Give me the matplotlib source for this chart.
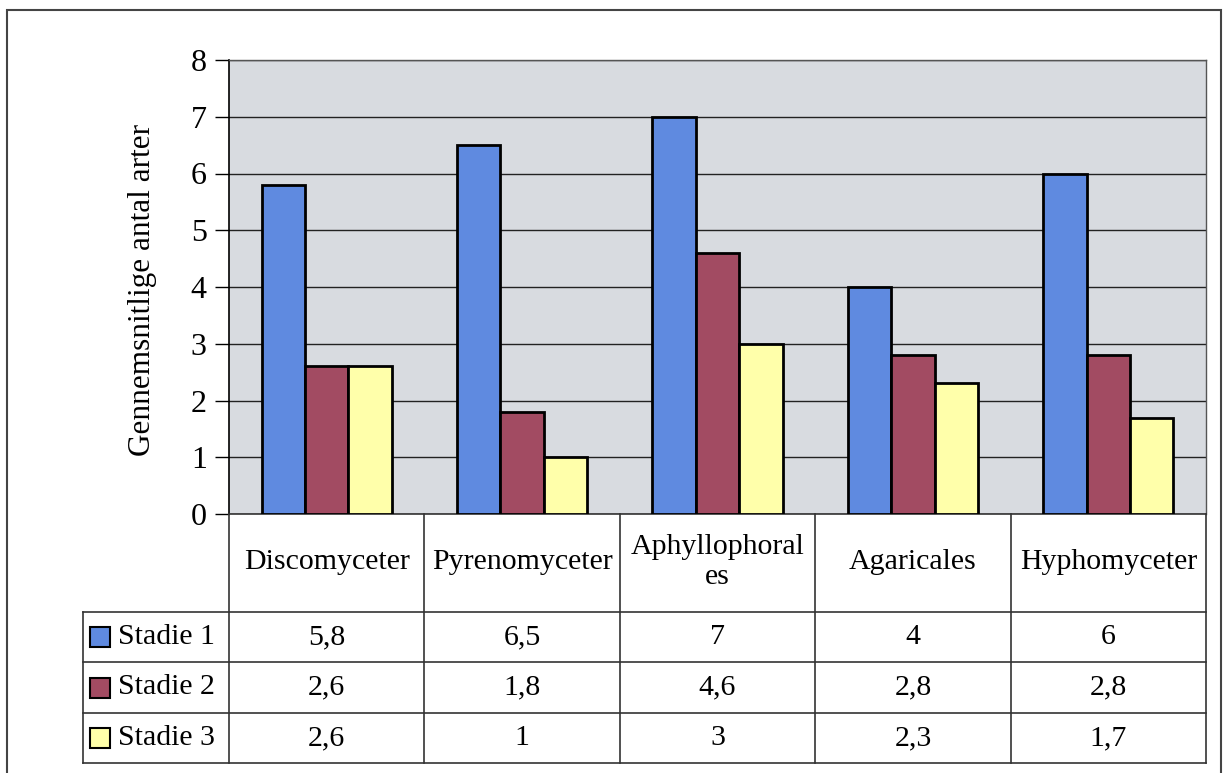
import numpy as np
import matplotlib
matplotlib.use("Agg")
import matplotlib.pyplot as plt
import matplotlib.transforms as mtransforms
from matplotlib.lines import Line2D
from matplotlib.patches import Rectangle

# data
categories = ['Discomyceter', 'Pyrenomyceter', 'Aphyllophoral\nes', 'Agaricales', 'Hyphomyceter']
series_names = ['Stadie 1', 'Stadie 2', 'Stadie 3']
stadie1 = [5.8, 6.5, 7, 4, 6]
stadie2 = [2.6, 1.8, 4.6, 2.8, 2.8]
stadie3 = [2.6, 1, 3, 2.3, 1.7]
y_ticks = [0, 1, 2, 3, 4, 5, 6, 7, 8]
colors = ['#5f8ae0', '#a24b62', '#ffffaa']

W, H = 1223, 773
plt.rcParams['font.family'] = ['Liberation Serif', 'DejaVu Serif']
FS = 21.5


def fx(x):
    return x / W


def fy(y):
    return 1 - y / H


fig = plt.figure(figsize=(W / 100, H / 100), dpi=100)

# outer chart border
fig.add_artist(Rectangle((fx(7), fy(790)), fx(1221) - fx(7), fy(10) - fy(790),
                         transform=fig.transFigure, fill=False,
                         edgecolor='#444444', linewidth=1.5))

ax = fig.add_axes([fx(229), fy(514), fx(1206) - fx(229), fy(60) - fy(514)])
ax.set_facecolor('#d8dbe0')

x = np.arange(len(categories))
w = 0.222
for k, vals in enumerate([stadie1, stadie2, stadie3]):
    ax.bar(x + (k - 1) * w, vals, w, color=colors[k], edgecolor='black',
           linewidth=2, zorder=3, label=series_names[k])

ax.set_xlim(-0.5, 4.5)
ax.set_ylim(0, 8)
ax.set_yticks(y_ticks)
ax.set_xticks([])
ax.yaxis.grid(True, color='#222222', linewidth=1)
ax.set_axisbelow(True)
ax.tick_params(axis='y', labelsize=23, length=10, width=1, pad=6,
               direction='out', colors='black')
for s in ['top', 'right']:
    ax.spines[s].set_color('#555555')
    ax.spines[s].set_linewidth(1)
ax.spines['left'].set_color('black')
ax.spines['left'].set_linewidth(1.2)
ax.spines['bottom'].set_color('#333333')
ax.spines['bottom'].set_linewidth(1.2)

ax.set_ylabel('Gennemsnitlige antal arter', fontsize=22.5)
ax.yaxis.set_label_coords(-0.074, 0.493)

# data table under the chart
tr = mtransforms.blended_transform_factory(ax.transData, fig.transFigure)
line_kw = dict(color='#333333', linewidth=1.2)

rows_y = [612, 662, 713, 763]
for b in np.arange(len(categories) + 1) - 0.5:
    fig.add_artist(Line2D([b, b], [fy(514), fy(763)], transform=tr, **line_kw))
for yy in rows_y:
    fig.add_artist(Line2D([fx(83), fx(1206)], [fy(yy), fy(yy)],
                          transform=fig.transFigure, **line_kw))
fig.add_artist(Line2D([fx(83), fx(83)], [fy(612), fy(763)],
                      transform=fig.transFigure, **line_kw))

for i, cat in enumerate(categories):
    fig.text(x[i], fy(562), cat, transform=tr, ha='center', va='center',
             fontsize=FS, linespacing=1.2)

for r, (name, vals) in enumerate(zip(series_names, [stadie1, stadie2, stadie3])):
    yc = (rows_y[r] + rows_y[r + 1]) / 2
    fig.add_artist(Rectangle((fx(90), fy(yc + 10)), fx(20), 20 / H,
                             transform=fig.transFigure, facecolor=colors[r],
                             edgecolor='black', linewidth=1.5))
    fig.text(fx(118), fy(yc), name, ha='left', va='center', fontsize=FS)
    for i, v in enumerate(vals):
        fig.text(x[i], fy(yc), f"{v:g}".replace('.', ','), transform=tr,
                 ha='center', va='center', fontsize=FS)

fig.savefig('out.png', dpi=100)
